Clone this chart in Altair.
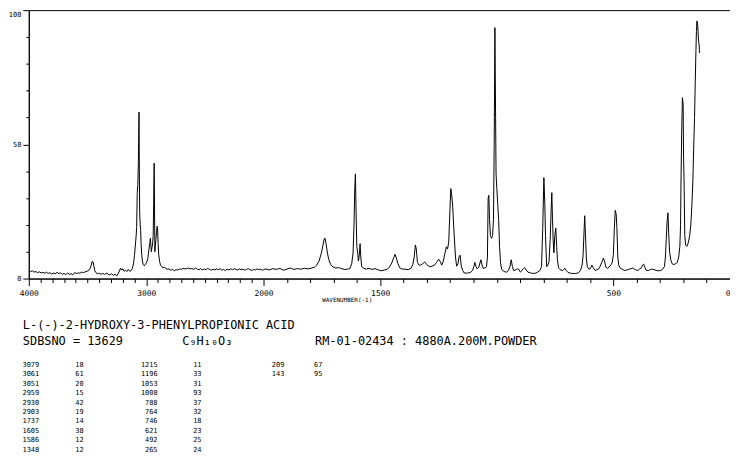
import altair as alt
import pandas as pd

# ---- spectrum (wavenumber in cm-1, relative intensity) ----
wavenumber = [
    4000, 3985, 3970, 3955, 3940, 3925, 3910, 3895, 3880, 3865, 3850, 3835, 3820, 3805, 3790, 3775,
    3760, 3745, 3730, 3715, 3700, 3685, 3670, 3655, 3640, 3625, 3610, 3595, 3580, 3565, 3550, 3535,
    3520, 3505, 3490, 3478, 3468, 3460, 3452, 3445, 3438, 3428, 3415, 3400, 3385, 3370, 3355, 3340,
    3325, 3310, 3295, 3280, 3265, 3250, 3240, 3228, 3218, 3208, 3198, 3188, 3176, 3165, 3152, 3140,
    3128, 3118, 3108, 3100, 3092, 3086, 3081, 3076, 3071, 3066, 3061, 3058, 3055, 3051, 3047, 3043,
    3038, 3032, 3025, 3018, 3010, 3002, 2995, 2988, 2982, 2976, 2970, 2964, 2960, 2956, 2951, 2946,
    2940, 2936, 2932, 2929, 2926, 2922, 2917, 2912, 2907, 2903, 2898, 2893, 2886, 2878, 2868, 2856,
    2844, 2832, 2820, 2805, 2790, 2775, 2760, 2745, 2730, 2715, 2700, 2685, 2670, 2655, 2640, 2625,
    2610, 2595, 2580, 2565, 2550, 2535, 2520, 2505, 2490, 2475, 2460, 2445, 2430, 2415, 2400, 2385,
    2370, 2355, 2340, 2325, 2310, 2295, 2280, 2265, 2250, 2235, 2220, 2205, 2190, 2175, 2160, 2145,
    2130, 2115, 2100, 2085, 2070, 2055, 2040, 2025, 2010, 2000,
    1990, 1975, 1960, 1945, 1930, 1915, 1900, 1885, 1870, 1855, 1840, 1825, 1810, 1795, 1782, 1772,
    1762, 1752, 1745, 1740, 1736, 1731, 1726, 1720, 1712, 1702, 1690, 1678, 1665, 1652, 1640, 1630,
    1622, 1616, 1612, 1609, 1606, 1603, 1600, 1596, 1593, 1589, 1586, 1583, 1579, 1570, 1560, 1548,
    1535, 1522, 1510, 1500, 1492, 1482, 1470, 1460, 1450, 1442, 1436, 1430, 1424, 1416, 1408, 1395,
    1380, 1368, 1360, 1354, 1349, 1345, 1340, 1333, 1326, 1316, 1309, 1300, 1288, 1278, 1267, 1258,
    1249, 1242, 1236, 1229, 1222, 1216, 1211, 1206, 1201, 1197, 1193, 1189, 1185, 1181, 1177, 1172,
    1166, 1162, 1157, 1152, 1146, 1140, 1130, 1120, 1112, 1104, 1098, 1094, 1089, 1084, 1077, 1072,
    1068, 1063, 1058, 1050, 1044, 1040, 1037, 1034, 1031, 1027, 1022, 1018, 1014, 1011, 1008, 1005,
    1003, 1000, 996, 992, 988, 984, 979, 972, 965, 958, 950, 943, 938, 933, 928, 920,
    912, 906, 899, 892, 885, 880, 874, 866, 855, 845, 835, 825, 815, 808, 803, 798,
    794, 791, 786, 781, 776, 771, 767, 764, 761, 758, 755, 751, 747, 743, 740, 735,
    728, 720, 714, 708, 702, 695, 685, 675, 662, 650, 641, 634, 630, 626, 623, 620,
    616, 612, 605, 598, 592, 586, 578, 570, 564, 557, 550, 543, 538, 532, 525, 518,
    510, 505, 500, 496, 492, 488, 485, 481, 477, 470, 462, 452, 444, 436, 428, 420,
    416, 410, 402, 395, 388, 380, 375, 370, 365, 360, 350, 340, 332, 322, 310, 297,
    288, 281, 277, 273, 270, 266, 263, 259, 254, 248, 240, 233, 226, 220, 215, 212,
    210, 207, 204, 201, 199, 197, 194, 190, 185, 181, 177, 173, 168, 163, 159, 156,
    152, 149, 146, 144, 142, 140, 138, 136, 134, 132, 131,
]
intensity = [
    2.8, 2.6, 2.9, 2.4, 2.6, 2.2, 2.5, 2.1, 2.3, 2.0, 2.4, 1.9, 2.2, 1.7, 2.0, 1.8,
    2.3, 1.9, 2.1, 1.6, 1.9, 1.5, 2.0, 1.6, 1.8, 1.4, 2.2, 1.9, 2.1, 2.0, 2.4, 2.2,
    2.5, 2.7, 3.0, 3.8, 5.0, 6.4, 6.2, 4.6, 3.0, 2.2, 1.8, 2.0, 1.6, 1.9, 1.5, 2.0,
    1.7, 1.3, 1.8, 1.2, 1.6, 1.0, 1.7, 2.8, 3.9, 3.2, 3.6, 2.7, 3.1, 2.6, 3.4, 2.7,
    3.0, 3.8, 5.5, 8.5, 12.5, 15.5, 19.0, 32.0, 35.0, 44.0, 62.0, 40.0, 24.0, 20.0, 18.0, 13.0,
    9.0, 6.5, 5.2, 4.8, 5.0, 5.6, 6.2, 7.0, 8.8, 11.0, 13.0, 15.0, 12.5, 10.0, 11.5, 12.5,
    16.0, 28.0, 43.0, 30.0, 10.0, 12.0, 14.5, 17.0, 19.5, 19.0, 13.0, 9.0, 6.5, 5.0, 4.5, 4.0,
    4.3, 3.7, 3.5, 3.6, 3.1, 3.4, 2.9, 3.3, 3.2, 3.6, 3.4, 3.8, 3.6, 3.7, 3.9, 3.6,
    3.8, 3.4, 3.9, 3.5, 3.3, 3.7, 3.2, 3.6, 3.3, 3.8, 3.4, 3.1, 3.5, 3.2, 3.6, 3.3,
    3.7, 3.1, 3.4, 3.0, 3.5, 3.2, 3.6, 3.3, 3.7, 3.4, 3.2, 3.6, 3.3, 3.5, 3.1, 3.4,
    3.7, 3.3, 3.0, 3.4, 3.2, 3.6, 3.3, 3.5, 3.1, 3.3,
    3.6, 3.2, 3.7, 3.4, 3.8, 3.1, 3.5, 3.9, 3.4, 3.7, 3.5, 3.8, 3.6, 3.9, 4.2, 5.0,
    6.5, 9.5, 12.5, 14.8, 15.0, 12.5, 9.5, 7.0, 5.2, 4.3, 3.9, 4.1, 3.7, 3.4, 3.5, 3.7,
    5.5, 9.5, 20.0, 33.0, 39.0, 24.0, 12.0, 9.5, 6.5, 9.0, 13.0, 8.0, 4.4, 3.8, 3.5, 3.8,
    3.4, 3.7, 3.3, 3.0, 2.9, 3.2, 3.4, 4.3, 5.8, 7.8, 9.0, 7.6, 5.6, 4.0, 3.6, 3.5,
    3.3, 3.8, 5.2, 8.0, 12.5, 11.0, 6.0, 5.0, 5.0, 5.6, 6.2, 5.2, 4.4, 4.6, 5.0, 6.0,
    7.2, 6.3, 5.0, 6.5, 9.5, 11.8, 11.0, 13.5, 25.0, 33.5, 31.0, 27.0, 20.0, 14.0, 8.0, 4.6,
    5.5, 8.0, 8.7, 4.6, 3.0, 2.1, 2.0, 2.1, 2.3, 3.0, 4.5, 6.0, 4.5, 3.6, 4.2, 5.8,
    7.0, 5.0, 3.8, 4.0, 4.4, 8.0, 30.0, 31.0, 22.0, 16.0, 15.0, 16.0, 22.0, 50.0, 93.5, 60.0,
    39.0, 34.0, 28.0, 22.0, 12.0, 6.0, 3.5, 2.8, 2.5, 2.4, 3.0, 4.5, 7.0, 4.5, 3.0, 3.2,
    3.6, 3.5, 2.4, 3.0, 3.8, 4.1, 3.2, 2.4, 2.1, 1.9, 2.0, 2.4, 3.0, 4.5, 18.6, 37.6,
    28.0, 16.0, 4.4, 5.0, 6.2, 14.5, 25.0, 32.0, 22.0, 14.0, 9.6, 16.0, 18.8, 12.0, 7.0, 4.0,
    3.3, 3.0, 3.2, 3.8, 3.0, 2.3, 2.0, 1.9, 1.9, 2.1, 3.0, 5.0, 8.5, 17.0, 23.4, 17.0,
    8.0, 4.4, 3.5, 3.8, 5.0, 4.0, 3.0, 3.3, 3.5, 4.5, 6.0, 7.6, 6.5, 4.2, 3.8, 4.3,
    5.2, 6.0, 9.0, 18.6, 25.4, 24.0, 19.0, 8.0, 5.0, 3.8, 3.5, 3.0, 3.1, 3.4, 3.6, 3.8,
    4.0, 3.5, 3.2, 3.0, 3.5, 4.0, 5.0, 5.4, 4.2, 3.1, 3.0, 3.4, 3.5, 3.2, 2.9, 3.0,
    3.5, 4.5, 8.0, 15.0, 21.0, 24.5, 17.0, 10.0, 7.0, 5.5, 5.2, 5.6, 6.0, 8.0, 12.0, 20.0,
    36.7, 55.0, 67.4, 65.0, 45.0, 36.7, 16.0, 12.5, 12.0, 12.8, 14.0, 16.0, 20.0, 28.0, 37.0, 48.0,
    60.0, 73.0, 85.0, 92.0, 96.0, 95.5, 94.0, 90.0, 88.0, 87.0, 84.0,
]

# ---- peak table ----
peak_wn = [3079, 3061, 3051, 2959, 2930, 2903, 1737, 1605, 1586, 1348,
           1215, 1196, 1053, 1008, 788, 764, 746, 621, 492, 265,
           209, 143]
peak_int = [18, 61, 20, 15, 42, 19, 14, 38, 12, 12,
            11, 33, 31, 93, 37, 32, 18, 23, 25, 24,
            67, 95]

title_text = "L-(-)-2-HYDROXY-3-PHENYLPROPIONIC ACID"
sdbs_text = "SDBSNO = 13629"
formula_text = "C\u2089H\u2081\u2080O\u2083"
sample_text = "RM-01-02434 : 4880A.200M.POWDER"
x_title = "WAVENUMBER(-1)"

x_label_values = [4000, 3000, 2000, 1500, 500, 0]
y_label_values = [0, 50, 100]

FONT = "DejaVu Sans Mono"
LEFT = 29            # page x of the plot's left edge
W, H = 737 - LEFT, 271
BREAK = round(W * 238 / 712)

spec_df = pd.DataFrame({"wn": wavenumber, "inten": intensity})
tbl_df = pd.DataFrame({
    "col": [i // 10 for i in range(len(peak_wn))],
    "row": [i % 10 for i in range(len(peak_wn))],
    "wn": peak_wn,
    "inten": peak_int,
})

x_lab = "[" + ",".join(str(v) for v in x_label_values) + "]"
y_lab = "[" + ",".join(str(v) for v in y_label_values) + "]"

spectrum = alt.Chart(spec_df).mark_line(color="black", strokeWidth=1).encode(
    x=alt.X("wn:Q",
            scale=alt.Scale(domain=[4000, 2000, 0], range=[0, BREAK, W], nice=False, zero=False),
            axis=alt.Axis(values=list(range(0, 4001, 100)), format="d",
                          labelExpr=f"indexof({x_lab}, datum.value) >= 0 ? datum.label : ''",
                          tickSize={"condition": {"test": f"indexof({x_lab}, datum.value) >= 0", "value": 7}, "value": 4},
                          labelAlign={"condition": {"test": "datum.value == 0", "value": "right"}, "value": "center"},
                          labelPadding=4, labelOverlap=False, labelFont=FONT, labelFontSize=8,
                          title=x_title, titleFont=FONT, titleFontSize=6, titleFontWeight="normal",
                          titleX=350 - LEFT, titleY=21, titleAlign="center", titleBaseline="middle",
                          grid=False)),
    y=alt.Y("inten:Q",
            scale=alt.Scale(domain=[0, 100], nice=False, zero=True),
            axis=alt.Axis(values=list(range(0, 101, 10)), format="d",
                          labelExpr=f"indexof({y_lab}, datum.value) >= 0 ? datum.label : ''",
                          tickSize={"condition": {"test": f"indexof({y_lab}, datum.value) >= 0", "value": 6}, "value": 3},
                          labelBaseline={"condition": {"test": "datum.value == 100", "value": "top"}, "value": "middle"},
                          labelPadding=2, labelOverlap=False, labelFont=FONT, labelFontSize=7,
                          title=None, grid=False)),
)

col_wn_scale = alt.Scale(domain=[0, 1, 2], range=[39.5 - LEFT, 159 - LEFT, 287 - LEFT])
col_int_scale = alt.Scale(domain=[0, 1, 2], range=[76 - LEFT, 195 - LEFT, 317 - LEFT])
row_scale = alt.Scale(domain=[0, 9], range=[358, 444])

wn_text = alt.Chart(tbl_df).mark_text(align="right", baseline="middle", font=FONT, fontSize=7, color="black").encode(
    x=alt.X("col:Q", scale=col_wn_scale, axis=None),
    y=alt.Y("row:Q", scale=row_scale, axis=None),
    text=alt.Text("wn:Q", format="d"),
)
int_text = alt.Chart(tbl_df).mark_text(align="left", baseline="middle", font=FONT, fontSize=7, color="black").encode(
    x=alt.X("col:Q", scale=col_int_scale, axis=None),
    y=alt.Y("row:Q", scale=row_scale, axis=None),
    text=alt.Text("inten:Q", format="d"),
)

def label(txt, x, y, size):
    return alt.Chart(pd.DataFrame({"t": [txt]})).mark_text(
        align="left", baseline="middle", font=FONT, fontSize=size, color="black"
    ).encode(x=alt.value(x - LEFT), y=alt.value(y), text="t:N")

header = [
    label(title_text, 23, 317.7, 12),
    label(sdbs_text, 23, 334.5, 12),
    label(formula_text, 184, 334.5, 12),
    label(sample_text, 318, 334.5, 12),
]

chart = alt.layer(spectrum, wn_text, int_text, *header).resolve_scale(
    x="independent", y="independent"
).properties(
    width=W, height=H,
    autosize=alt.AutoSizeParams(type="none"),
    padding={"left": LEFT - 8, "top": 0, "right": 0, "bottom": 178},
    background="white",
).configure_view(
    stroke="black", strokeWidth=1
).configure_axis(
    domainColor="black", tickColor="black", labelColor="black", titleColor="black",
    domainWidth=1, tickWidth=1,
)

chart.save("out.html", embed_options={"renderer": "svg", "actions": False})
